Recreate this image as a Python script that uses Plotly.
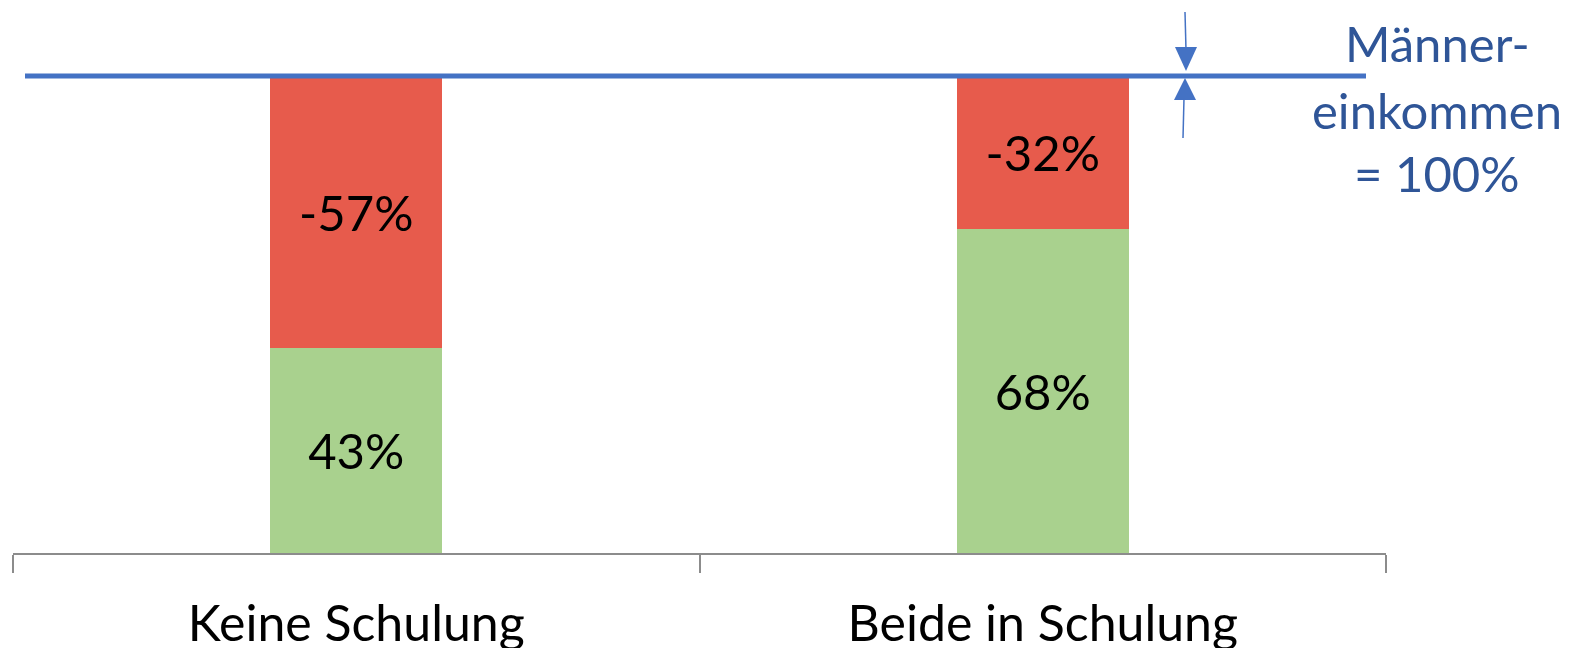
import plotly.graph_objects as go

W, H = 1571, 648

categories = ["Keine Schulung", "Beide in Schulung"]
frauen_anteil = [43, 68]      # green: women's income as % of men's
luecke = [57, 32]             # red: gap
luecke_labels = ["-57%", "-32%"]
frauen_labels = ["43%", "68%"]
referenz = 100                # Männereinkommen = 100%
ref_text = ["Männer-", "einkommen", "= 100%"]

GREEN = "#A9D18E"
RED = "#E75B4C"
BLUE = "#4472C4"
DBLUE = "#2F5597"
FONT = "Lato"
FS = 49

def px(x):
    return x / W

def py(y):
    return 1 - y / H

fig = go.Figure()
fig.add_trace(go.Bar(
    x=categories, y=frauen_anteil, marker=dict(color=GREEN, line=dict(width=0)),
    text=frauen_labels, textposition="inside", insidetextanchor="middle",
    textangle=0, constraintext="none",
    textfont=dict(family=FONT, size=FS, color="black"), width=0.25,
    hoverinfo="skip"))
fig.add_trace(go.Bar(
    x=categories, y=luecke, marker=dict(color=RED, line=dict(width=0)),
    text=luecke_labels, textposition="inside", insidetextanchor="middle",
    textangle=0, constraintext="none",
    textfont=dict(family=FONT, size=FS, color="black"), width=0.25,
    hoverinfo="skip"))

x_left, x_right = 13, 1386
y_zero, y_top = 553, 4.45

fig.update_layout(
    width=W, height=H, barmode="stack", showlegend=False,
    margin=dict(l=0, r=0, t=0, b=0, autoexpand=False),
    paper_bgcolor="white", plot_bgcolor="white",
    xaxis=dict(domain=[px(x_left), px(x_right)], type="category",
               range=[-0.5, 1.5], tickson="boundaries", ticks="outside",
               ticklen=18, tickwidth=2, tickcolor="#8C8C8C",
               showline=True, linecolor="#8C8C8C", linewidth=2,
               showgrid=False, zeroline=False, automargin=False,
               tickfont=dict(family=FONT, size=50, color="black"),
               ticklabelstandoff=26),
    yaxis=dict(domain=[py(y_zero), py(y_top)], range=[0, 115],
               visible=False, showgrid=False, zeroline=False, automargin=False),
)

# reference line (Männereinkommen = 100%)
fig.add_shape(type="line", xref="paper", yref="y",
              x0=px(25), x1=px(1366), y0=referenz, y1=referenz,
              line=dict(color=BLUE, width=5))

# arrows
fig.add_shape(type="line", xref="paper", yref="paper",
              x0=px(1185), y0=py(12), x1=px(1186), y1=py(50),
              line=dict(color=BLUE, width=1.5))
fig.add_shape(type="path", xref="paper", yref="paper",
              path=f"M {px(1186)} {py(71)} L {px(1175)} {py(47)} L {px(1197)} {py(47)} Z",
              fillcolor=BLUE, line=dict(color=BLUE, width=0))
fig.add_shape(type="path", xref="paper", yref="paper",
              path=f"M {px(1185)} {py(78)} L {px(1174)} {py(100)} L {px(1196)} {py(100)} Z",
              fillcolor=BLUE, line=dict(color=BLUE, width=0))
fig.add_shape(type="line", xref="paper", yref="paper",
              x0=px(1184), y0=py(98), x1=px(1183), y1=py(138),
              line=dict(color=BLUE, width=1.5))

# label text
centers = [43, 110, 173]
for t, yc in zip(ref_text, centers):
    fig.add_annotation(xref="paper", yref="paper", x=px(1437), y=py(yc),
                       text=t, showarrow=False, xanchor="center", yanchor="middle",
                       font=dict(family=FONT, size=FS, color=DBLUE))

fig.write_html("out.html", config={"displayModeBar": False},
               post_script="document.body.style.margin='0';document.body.style.overflow='hidden';")
